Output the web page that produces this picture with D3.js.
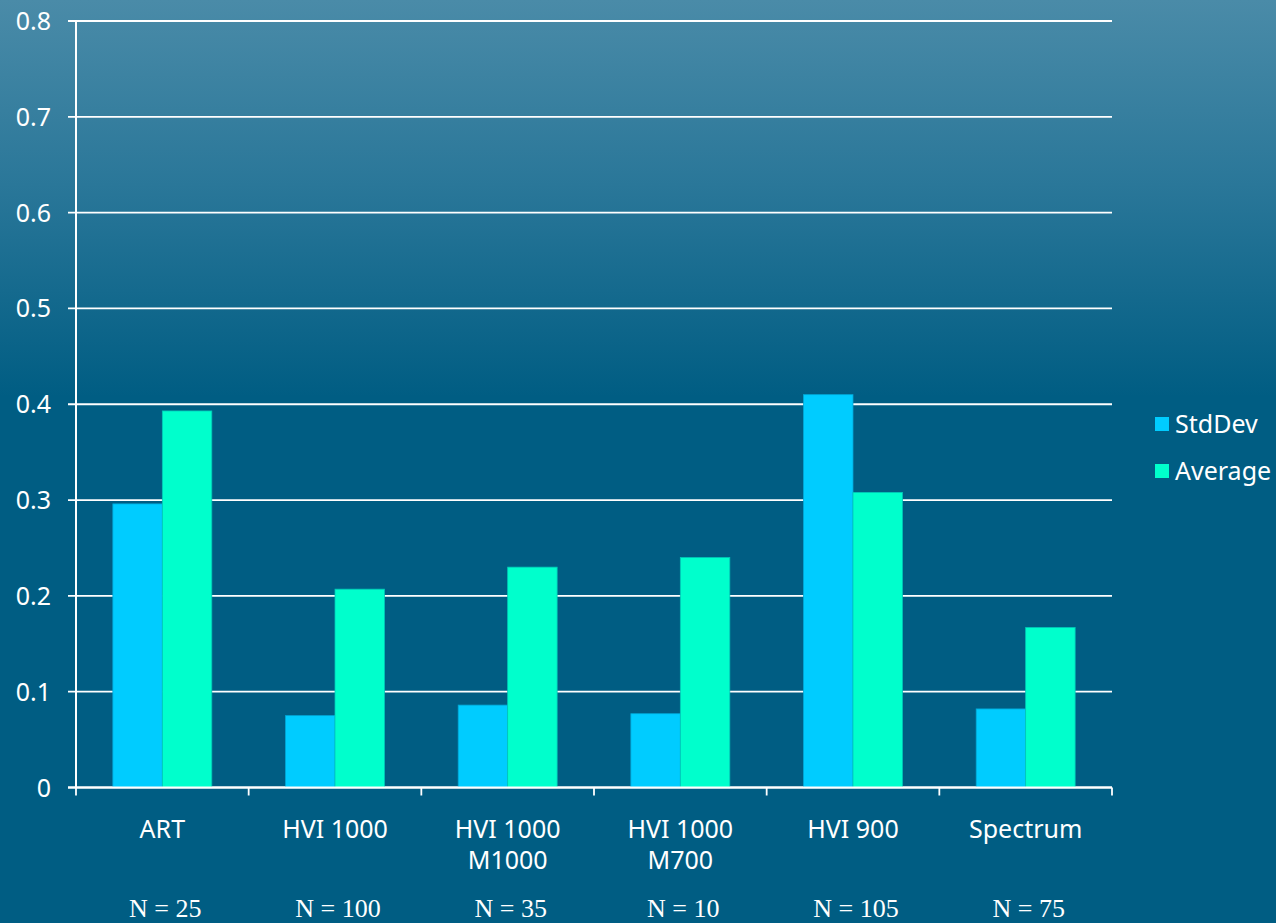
<!DOCTYPE html>
<html>
<head>
<meta charset="utf-8">
<script src="https://cdn.jsdelivr.net/npm/d3@7"></script>
<style>
  html, body { margin: 0; padding: 0; overflow: hidden; }
  #chart { width: 1276px; height: 923px; }
</style>
</head>
<body>
<div id="chart"></div>
<script>
const categories = [['ART'], ['HVI 1000'], ['HVI 1000', 'M1000'], ['HVI 1000', 'M700'], ['HVI 900'], ['Spectrum']];
const sampleSizes = ['N = 25', 'N = 100', 'N = 35', 'N = 10', 'N = 105', 'N = 75'];
const seriesNames = ['StdDev', 'Average'];
const stdDev = [0.296, 0.075, 0.086, 0.077, 0.410, 0.082];
const average = [0.393, 0.207, 0.230, 0.240, 0.308, 0.167];
const yTicks = [0, 0.1, 0.2, 0.3, 0.4, 0.5, 0.6, 0.7, 0.8];

const W = 1276, H = 923;
const margin = { left: 76, right: 164, top: 21, bottom: 135.5 };
const colors = { StdDev: '#00ccff', Average: '#00ffcc' };
const sans = 'Noto Sans, DejaVu Sans, sans-serif';

const svg = d3.select('#chart').append('svg')
  .attr('width', W)
  .attr('height', H);

// background gradient
const defs = svg.append('defs');
const grad = defs.append('linearGradient')
  .attr('id', 'bg')
  .attr('x1', 0).attr('y1', 0).attr('x2', 0).attr('y2', 1);
grad.append('stop').attr('offset', '0%').attr('stop-color', '#4a8ba8');
grad.append('stop').attr('offset', '20%').attr('stop-color', '#2a7799');
grad.append('stop').attr('offset', '43%').attr('stop-color', '#005d83');
grad.append('stop').attr('offset', '100%').attr('stop-color', '#005d83');
svg.append('rect').attr('width', W).attr('height', H).attr('fill', 'url(#bg)');

const keys = categories.map((c, i) => i);
const x = d3.scaleBand()
  .domain(keys)
  .range([margin.left, W - margin.right])
  .paddingInner(0.427)
  .paddingOuter(0.2135);
const xs = d3.scaleBand().domain(seriesNames).range([0, x.bandwidth()]);
const y = d3.scaleLinear().domain([0, 0.8]).range([H - margin.bottom, margin.top]);

// gridlines
svg.append('g')
  .selectAll('line')
  .data(yTicks)
  .join('line')
  .attr('x1', margin.left - 8)
  .attr('x2', W - margin.right)
  .attr('y1', d => y(d))
  .attr('y2', d => y(d))
  .attr('stroke', '#ffffff')
  .attr('stroke-width', 1.8);

// y tick labels
svg.append('g')
  .selectAll('text')
  .data(yTicks)
  .join('text')
  .attr('x', 51)
  .attr('y', d => y(d))
  .attr('dy', '0.36em')
  .attr('text-anchor', 'end')
  .attr('fill', '#ffffff')
  .attr('font-family', sans)
  .attr('font-size', 25)
  .text(d => d === 0 ? '0' : d.toFixed(1));

// bars
const rows = keys.map(i => ({ i, values: [stdDev[i], average[i]] }));
const groups = svg.append('g')
  .selectAll('g')
  .data(rows)
  .join('g')
  .attr('transform', d => `translate(${x(d.i)},0)`);
groups.selectAll('rect')
  .data(d => d.values.map((v, k) => ({ key: seriesNames[k], v })))
  .join('rect')
  .attr('x', d => xs(d.key))
  .attr('width', xs.bandwidth())
  .attr('y', d => y(d.v))
  .attr('height', d => y(0) - y(d.v))
  .attr('fill', d => colors[d.key])
  .attr('stroke', d => d.key === 'StdDev' ? '#00a8d8' : '#00c8b8')
  .attr('stroke-width', 0.8);

// axes lines
svg.append('line')
  .attr('x1', margin.left).attr('x2', margin.left)
  .attr('y1', y(0.8)).attr('y2', y(0))
  .attr('stroke', '#ffffff').attr('stroke-width', 2);
svg.append('line')
  .attr('x1', margin.left - 8).attr('x2', W - margin.right)
  .attr('y1', y(0)).attr('y2', y(0))
  .attr('stroke', '#ffffff').attr('stroke-width', 2);

// x ticks at category boundaries
const step = x.step();
const bounds = d3.range(categories.length + 1).map(k => margin.left + k * step);
svg.append('g')
  .selectAll('line')
  .data(bounds)
  .join('line')
  .attr('x1', d => d).attr('x2', d => d)
  .attr('y1', y(0)).attr('y2', y(0) + 8)
  .attr('stroke', '#ffffff').attr('stroke-width', 1.8);

// category labels
const cat = svg.append('g')
  .selectAll('text')
  .data(keys)
  .join('text')
  .attr('x', i => x(i) + x.bandwidth() / 2)
  .attr('y', 838)
  .attr('text-anchor', 'middle')
  .attr('fill', '#ffffff')
  .attr('font-family', sans)
  .attr('font-size', 25);
cat.selectAll('tspan')
  .data(i => categories[i])
  .join('tspan')
  .attr('x', function () { return d3.select(this.parentNode).attr('x'); })
  .attr('dy', (d, k) => k === 0 ? 0 : 31)
  .text(d => d);

// sample size notes
svg.append('g')
  .selectAll('text')
  .data(keys)
  .join('text')
  .attr('x', i => x(i) + x.bandwidth() / 2 + 3)
  .attr('y', 917)
  .attr('text-anchor', 'middle')
  .attr('fill', '#ffffff')
  .attr('font-family', 'Liberation Serif, Times New Roman, serif')
  .attr('font-size', 26)
  .text(i => sampleSizes[i]);

// legend
const legend = svg.append('g')
  .selectAll('g')
  .data(seriesNames)
  .join('g')
  .attr('transform', (d, k) => `translate(1155,${417 + k * 47})`);
legend.append('rect')
  .attr('width', 14).attr('height', 14)
  .attr('fill', d => colors[d]);
legend.append('text')
  .attr('x', 20)
  .attr('y', 16)
  .attr('fill', '#ffffff')
  .attr('font-family', sans)
  .attr('font-size', 25)
  .text(d => d);
</script>
</body>
</html>
